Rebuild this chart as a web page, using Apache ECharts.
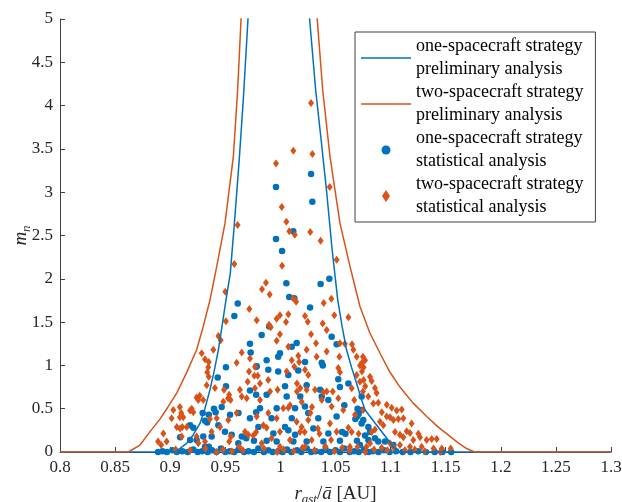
<!DOCTYPE html>
<html>
<head>
<meta charset="utf-8">
<script src="https://cdn.jsdelivr.net/npm/echarts@6/dist/echarts.min.js"></script>
<style>
  html, body { margin: 0; padding: 0; background: #fff; }
  #chart { width: 622px; height: 502px; }
</style>
</head>
<body>
<div id="chart"></div>
<script>
// Axis ranges and ticks
const xRange = [0.8, 1.3];
const xStep = 0.05;
const yRange = [0, 5];
const yStep = 0.5;

// Legend names
const seriesNames = [
  'one-spacecraft strategy\npreliminary analysis',
  'two-spacecraft strategy\npreliminary analysis',
  'one-spacecraft strategy\nstatistical analysis',
  'two-spacecraft strategy\nstatistical analysis'
];

// Preliminary analysis boundaries, [r_ast / a, m_n]
const onePrelim = [
  [0.80, 0], [0.9044, 0], [0.915, 0.10], [0.921, 0.20], [0.927, 0.33], [0.9315, 0.50],
  [0.9361, 0.72], [0.940, 0.94], [0.9437, 1.18], [0.947, 1.45], [0.9506, 1.755],
  [0.9545, 2.06], [0.958, 2.60], [0.9625, 3.35], [0.9663, 4.06], [0.9706, 5.0], [0.9716, 5.3],
  [1.0248, 5.3], [1.0265, 5.0], [1.032, 4.18], [1.037, 3.6], [1.042, 3.0], [1.047, 2.33],
  [1.052, 1.76], [1.056, 1.45], [1.060, 1.18], [1.0645, 0.98], [1.0692, 0.79], [1.073, 0.63],
  [1.0768, 0.485], [1.0904, 0.26], [1.1025, 0.06], [1.1085, 0], [1.30, 0]
];
const twoPrelim = [
  [0.80, 0], [0.862, 0], [0.8726, 0.08], [0.8817, 0.235], [0.8907, 0.38], [0.898, 0.52],
  [0.9059, 0.68], [0.915, 0.92], [0.924, 1.18], [0.930, 1.45], [0.9361, 1.755],
  [0.9422, 2.14], [0.9497, 2.64], [0.9573, 3.41], [0.9612, 4.18], [0.9643, 5.0], [0.9653, 5.3],
  [1.0318, 5.3], [1.0334, 5.0], [1.0384, 4.18], [1.045, 3.41], [1.0541, 2.64], [1.0632, 2.14],
  [1.0722, 1.68], [1.081, 1.38], [1.0904, 1.14], [1.099, 0.93], [1.1085, 0.75], [1.12, 0.57],
  [1.1328, 0.41], [1.143, 0.29], [1.1539, 0.18], [1.162, 0.10], [1.169, 0.04], [1.176, 0], [1.30, 0]
];

// Statistical analysis, one-spacecraft strategy
const oneStat = [
  [1.0278, 3.21], [0.996, 3.06], [1.029, 2.89], [1.0117, 2.55], [0.996, 2.46], [1.0015, 2.32],
  [1.0054, 1.95], [1.0365, 1.94], [1.0444, 2.00], [1.008, 1.79], [1.0126, 1.775], [0.9613, 1.715],
  [0.9582, 1.57], [0.9724, 1.25], [0.9730, 1.15], [0.9785, 0.99], [0.9506, 0.98], [0.9431, 0.86],
  [0.9506, 0.76], [0.9724, 0.71], [0.9467, 0.52], [0.9397, 0.50], [0.9412, 0.46], [0.9295, 0.45],
  [0.935, 0.43], [0.9335, 0.34], [0.9316, 0.36], [0.9543, 0.43], [0.962, 0.45], [0.9724, 0.39],
  [0.978, 0.46], [0.9437, 0.31], [0.9497, 0.235], [0.9558, 0.20], [0.965, 0.18], [0.969, 0.16],
  [0.9376, 0.18], [0.930, 0.18], [0.924, 0.14], [0.9316, 0.06], [0.935, 0.06], [0.976, 0.13],
  [0.9618, 0.10], [0.918, 0.31], [0.921, 0.28], [0.909, 0.17], [0.918, 0.14],
  [1.0269, 1.67], [0.9899, 1.45], [0.983, 1.35], [1.0148, 1.26], [1.0103, 1.215], [1.0465, 1.33],
  [1.051, 1.245], [0.9996, 1.14], [0.998, 1.10], [1.0375, 1.03], [1.0385, 1.00], [1.0223, 1.04],
  [0.9875, 1.06], [0.989, 0.95], [0.978, 0.985], [0.998, 0.93], [1.0072, 0.89], [1.0162, 0.94],
  [1.0042, 0.76], [1.0238, 0.77], [1.0525, 0.84], [1.054, 0.75], [1.0617, 0.79], [1.036, 0.72],
  [1.0375, 0.64], [1.0435, 0.60], [0.9875, 0.66], [0.978, 0.66], [1.0057, 0.64], [1.018, 0.64],
  [1.0223, 0.525], [1.0133, 0.505], [0.9966, 0.505], [0.9815, 0.505], [1.058, 0.54], [1.070, 0.50],
  [1.0735, 0.485], [1.071, 0.44], [1.0695, 0.41], [1.068, 0.38], [1.051, 0.41], [1.0344, 0.39],
  [1.0253, 0.45], [1.0103, 0.39], [0.992, 0.39], [0.980, 0.29], [1.0042, 0.29], [1.0072, 0.25],
  [1.0299, 0.27], [1.0435, 0.215], [1.056, 0.23], [1.059, 0.21], [0.9936, 0.215], [1.0133, 0.20],
  [0.9875, 0.13], [0.9966, 0.12], [1.0118, 0.12], [1.0238, 0.12], [1.039, 0.12], [1.054, 0.13],
  [1.0695, 0.13], [1.0737, 0.64], [1.0752, 0.37], [1.0737, 0.33], [1.0798, 0.29], [1.0813, 0.23],
  [1.0768, 0.19], [1.0798, 0.14], [1.0858, 0.16], [1.0888, 0.12], [1.0949, 0.12], [1.1025, 0.08],
  [1.0722, 0.08],
  [0.889, 0], [0.893, 0.01], [0.897, 0], [0.902, 0.02], [0.906, 0], [0.911, 0.01], [0.916, 0],
  [0.921, 0.03], [0.925, 0], [0.929, 0.01], [0.934, 0], [0.938, 0.02], [0.942, 0], [0.946, 0.04],
  [0.95, 0], [0.954, 0.01], [0.958, 0], [0.962, 0.03], [0.967, 0], [0.971, 0.01], [0.976, 0],
  [0.98, 0.04], [0.985, 0], [0.989, 0.02], [0.993, 0], [0.998, 0.01], [1.002, 0], [1.006, 0.03],
  [1.01, 0], [1.015, 0.02], [1.019, 0], [1.024, 0.04], [1.028, 0], [1.032, 0.01], [1.037, 0],
  [1.041, 0.03], [1.045, 0], [1.05, 0.02], [1.054, 0], [1.058, 0.04], [1.063, 0], [1.067, 0.01],
  [1.071, 0], [1.076, 0.03], [1.08, 0], [1.084, 0.01], [1.089, 0], [1.094, 0.02], [1.099, 0],
  [1.105, 0.01], [1.111, 0], [1.118, 0], [1.125, 0.01], [1.132, 0], [1.14, 0], [1.147, 0], [1.155, 0]
];

// Statistical analysis, two-spacecraft strategy
const twoStat = [
  [1.0278, 4.03], [1.0117, 3.48], [1.029, 3.44], [0.996, 3.33], [1.0447, 3.06], [1.0012, 2.83],
  [1.0054, 2.66], [1.0081, 2.55], [1.013, 2.51], [1.0271, 2.54], [1.0365, 2.44], [0.9612, 2.62],
  [1.0511, 2.22], [1.0015, 2.15], [0.9582, 2.17], [0.9869, 1.955], [0.9833, 1.88], [0.9903, 1.82],
  [0.950, 1.85], [1.0117, 1.775], [1.0142, 1.735], [1.0462, 1.77], [1.0393, 1.72],
  [0.9718, 1.65], [0.9785, 1.52], [0.9506, 1.51], [0.9437, 1.34], [0.9458, 1.29], [0.9391, 1.18],
  [0.9286, 1.14], [0.9649, 1.15], [0.9316, 1.07], [0.935, 1.04], [0.9345, 0.98], [0.9336, 0.92],
  [0.935, 0.87], [0.9603, 1.03], [0.9724, 1.08], [0.9715, 0.93], [0.9703, 0.81], [0.9763, 0.88],
  [0.9331, 0.77], [0.9488, 0.72], [0.9535, 0.66], [0.9525, 0.62], [0.9548, 0.60], [0.9633, 0.72],
  [0.9649, 0.64], [0.9694, 0.62], [0.9482, 0.58], [0.930, 0.60], [0.924, 0.63], [0.9255, 0.60],
  [0.9268, 0.65], [0.9195, 0.50], [0.918, 0.48], [0.921, 0.46], [0.9028, 0.485], [0.9088, 0.52],
  [0.910, 0.45], [0.9118, 0.40], [0.9088, 0.40], [0.9013, 0.39], [0.915, 0.29], [0.911, 0.29],
  [0.909, 0.27], [0.906, 0.29], [0.8938, 0.215], [0.8968, 0.12], [0.889, 0.12], [0.8918, 0.08],
  [0.9104, 0.18], [0.924, 0.18], [0.9255, 0.10], [0.9376, 0.235], [0.9452, 0.29], [0.9527, 0.37],
  [0.9603, 0.45], [0.9552, 0.18], [0.9535, 0.12], [0.9679, 0.235], [0.9709, 0.20], [0.9754, 0.19],
  [0.9627, 0.06], [0.9406, 0.74], [0.9422, 0.39], [0.936, 0.38], [0.9316, 0.12], [0.9794, 0.88],
  [0.9769, 0.735],
  [1.0489, 1.58], [1.0617, 1.555], [0.9996, 1.58], [1.0072, 1.59], [0.9966, 1.54], [0.9897, 1.47],
  [0.9912, 1.44], [1.0051, 1.50], [1.0223, 1.57], [1.0248, 1.505], [1.0384, 1.485], [1.042, 1.41],
  [0.9996, 1.36], [1.0278, 1.36], [1.0323, 1.255], [1.054, 1.255], [1.0585, 1.25], [1.065, 1.245],
  [0.9966, 1.285], [1.0072, 1.215], [1.0238, 1.18], [1.042, 1.16], [1.0162, 1.11], [1.0329, 1.10],
  [1.0103, 1.06], [1.017, 1.04], [1.0535, 1.10], [1.0692, 1.10], [0.977, 0.985], [1.0057, 0.93],
  [1.0126, 0.985], [1.0223, 0.95], [1.0253, 0.89], [1.0525, 0.97], [1.054, 0.92], [1.0692, 0.89],
  [1.0722, 0.81], [0.9815, 0.79], [0.989, 0.83], [0.9975, 0.72], [0.9906, 0.70], [1.0150, 0.79],
  [1.018, 0.74], [1.015, 0.70], [1.0238, 0.72], [1.0314, 0.72], [1.0390, 0.69], [1.042, 0.70],
  [1.0475, 0.70], [1.0647, 0.735], [1.0525, 0.62], [1.067, 0.60], [0.9815, 0.60], [1.0026, 0.505],
  [1.0087, 0.54], [1.0072, 0.51], [1.0193, 0.58], [1.0287, 0.52], [1.0272, 0.45], [1.0375, 0.60],
  [1.0465, 0.525], [1.0571, 0.485], [1.0677, 0.43], [1.075, 0.485], [0.989, 0.45], [0.9785, 0.41],
  [0.9845, 0.31], [0.9875, 0.28], [0.9966, 0.39], [0.9996, 0.235], [1.0147, 0.35], [1.0193, 0.29],
  [1.0178, 0.23], [1.0253, 0.37], [1.022, 0.23], [1.034, 0.27], [1.0355, 0.21], [1.045, 0.33],
  [1.051, 0.235], [1.0617, 0.28], [1.0647, 0.23], [1.071, 0.21], [0.978, 0.23], [0.992, 0.16],
  [1.0087, 0.14], [1.0284, 0.14], [1.046, 0.14], [0.983, 0.10],
  [1.0749, 1.10], [1.0768, 1.06], [1.0722, 1.00], [1.0813, 0.87], [1.0828, 0.82], [1.074, 0.93],
  [1.0755, 0.83], [1.077, 0.76], [1.0749, 0.70], [1.0858, 0.74], [1.0873, 0.68], [1.0797, 0.64],
  [1.0843, 0.56], [1.0888, 0.57], [1.0965, 0.545], [1.101, 0.51], [1.092, 0.46], [1.0965, 0.41],
  [1.0995, 0.40], [1.1055, 0.48], [1.1101, 0.49], [1.1025, 0.37], [1.107, 0.38], [1.1116, 0.39],
  [1.1191, 0.33], [1.1252, 0.21], [1.1267, 0.17], [1.1146, 0.24], [1.1176, 0.22], [1.1206, 0.14],
  [1.1327, 0.14], [1.1373, 0.15], [1.1418, 0.15], [1.1464, 0.04], [1.1545, 0.04], [1.104, 0.23],
  [1.1085, 0.20], [1.1116, 0.17], [1.0904, 0.35], [1.0934, 0.31], [1.0858, 0.26], [1.0828, 0.23],
  [1.0995, 0.10], [1.1085, 0.08], [1.1176, 0.06], [1.1282, 0.06], [1.0813, 0.10], [1.0919, 0.05],
  [1.0662, 1.18], [1.074, 1.03], [1.0755, 0.98],
  [0.905, 0.03], [0.918, 0.02], [0.932, 0.04], [0.942, 0], [0.948, 0.03], [0.956, 0.01],
  [0.966, 0.02], [0.985, 0.04], [0.997, 0], [1.003, 0.03], [1.012, 0.01], [1.02, 0.05],
  [1.031, 0.02], [1.041, 0.06], [1.049, 0.01], [1.056, 0.05], [1.063, 0.02], [1.07, 0.06],
  [1.077, 0], [1.085, 0.03], [1.097, 0.02], [1.103, 0.05], [1.113, 0.02], [1.122, 0.03],
  [1.131, 0.01], [1.139, 0.04], [1.145, 0], [0.9996, 0.06], [1.0223, 0.06], [1.0405, 0.06],
  [1.0631, 0.06], [1.078, 0.06]
];

const SERIF = '"Liberation Serif", "Times New Roman", serif';
const INK = '#262626';
const AXIS_COLOR = '#404040';
const BLUE = '#0072BD';
const ORANGE = '#D95319';

// Legend icons drawn in a 50 x 14 box
const ICON_LINE = 'path://M0,0M50,14M0,6.25H50V7.75H0Z';
const ICON_DOT = 'path://M0,0M50,14M20.5,7A4.5,4.5,0,1,0,29.5,7A4.5,4.5,0,1,0,20.5,7Z';
const ICON_DIAMOND = 'path://M0,0M50,14M25,1L29,7L25,13L21,7Z';

const nameRich = {
  i: { fontFamily: SERIF, fontStyle: 'italic', fontSize: 19, color: INK },
  s: { fontFamily: SERIF, fontStyle: 'italic', fontSize: 13, color: INK, padding: [11, 0, 0, 0] },
  t: { fontFamily: SERIF, fontSize: 19, color: INK }
};

function valueAxis(range, step, extra) {
  return Object.assign({
    type: 'value',
    min: range[0],
    max: range[1],
    interval: step,
    nameLocation: 'middle',
    nameMoveOverlap: false,
    nameTextStyle: { rich: nameRich },
    axisLine: { show: true, onZero: false, lineStyle: { color: AXIS_COLOR, width: 1 } },
    axisTick: { show: true, inside: true, length: 5, lineStyle: { color: AXIS_COLOR, width: 1 } },
    splitLine: { show: false }
  }, extra);
}

const chart = echarts.init(document.getElementById('chart'), null, { renderer: 'canvas' });
chart.setOption({
  animation: false,
  backgroundColor: '#fff',
  grid: { left: 60, right: 11, top: 19, bottom: 50, containLabel: false, outerBoundsMode: 'none' },
  xAxis: valueAxis(xRange, xStep, {
    name: '{i|r}{s|ast}{t|/}{i|ā}{t| [AU]}',
    nameGap: 30,
    axisLabel: { color: INK, fontFamily: SERIF, fontSize: 17, margin: 7 }
  }),
  yAxis: valueAxis(yRange, yStep, {
    name: '{i|m}{s|n}',
    nameGap: 27,
    axisLabel: { color: INK, fontFamily: SERIF, fontSize: 17, margin: 7 }
  }),
  legend: {
    orient: 'vertical',
    left: 355,
    top: 32,
    padding: [3, 12, 3, 6],
    itemGap: 0,
    itemWidth: 50,
    itemHeight: 14,
    borderColor: AXIS_COLOR,
    borderWidth: 1,
    borderRadius: 0,
    backgroundColor: '#fff',
    selectedMode: false,
    itemStyle: { borderWidth: 0 },
    textStyle: { fontFamily: SERIF, fontSize: 18, lineHeight: 23, color: '#000' },
    data: [
      { name: seriesNames[0], icon: ICON_LINE },
      { name: seriesNames[1], icon: ICON_LINE },
      { name: seriesNames[2], icon: ICON_DOT },
      { name: seriesNames[3], icon: ICON_DIAMOND }
    ]
  },
  series: [
    {
      name: seriesNames[0], type: 'line', data: onePrelim, symbol: 'none', clip: true,
      lineStyle: { color: BLUE, width: 1.5 }, itemStyle: { color: BLUE }
    },
    {
      name: seriesNames[1], type: 'line', data: twoPrelim, symbol: 'none', clip: true,
      lineStyle: { color: ORANGE, width: 1.5 }, itemStyle: { color: ORANGE }
    },
    {
      name: seriesNames[2], type: 'scatter', data: oneStat, symbol: 'circle', symbolSize: 6.5,
      clip: false, itemStyle: { color: BLUE, opacity: 1 }
    },
    {
      name: seriesNames[3], type: 'scatter', data: twoStat, symbol: 'diamond', symbolSize: [6, 8],
      clip: false, itemStyle: { color: ORANGE, opacity: 1 }
    }
  ]
});
</script>
</body>
</html>
